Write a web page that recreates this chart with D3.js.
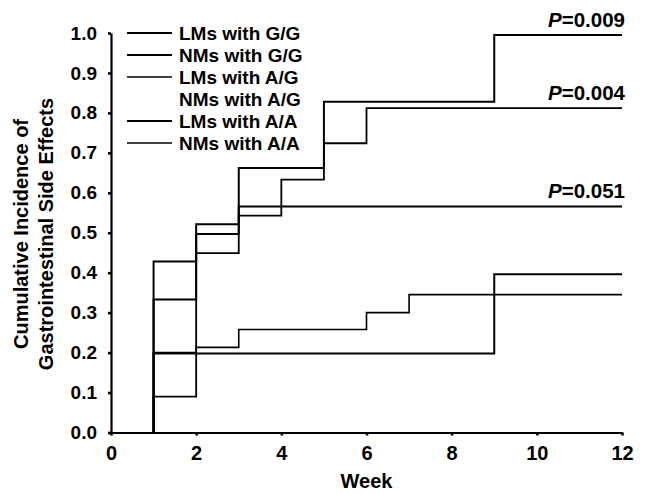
<!DOCTYPE html>
<html>
<head>
<meta charset="utf-8">
<script src="https://cdn.jsdelivr.net/npm/d3@7"></script>
<style>
  body { margin: 0; background: #fff; }
  svg { display: block; }
</style>
</head>
<body>
<svg id="chart" width="650" height="494"></svg>
<script>
// step curves: week of each event and cumulative incidence after it
var lmsGGWeeks = [1, 2, 3, 5, 9];
var lmsGGValues = [0.333, 0.497, 0.662, 0.828, 0.995];

var lmsAGWeeks = [1, 2, 3, 4, 5, 6];
var lmsAGValues = [0.09, 0.449, 0.543, 0.633, 0.724, 0.812];

var lmsAAWeeks = [1, 2, 3];
var lmsAAValues = [0.428, 0.521, 0.566];

var nmsAAWeeks = [1, 2, 3, 6, 7];
var nmsAAValues = [0.2, 0.213, 0.258, 0.300, 0.345];

var nmsGGWeeks = [1, 9];
var nmsGGValues = [0.198, 0.396];

var legendLabels = ["LMs with G/G", "NMs with G/G", "LMs with A/G",
                    "NMs with A/G", "LMs with A/A", "NMs with A/A"];
var pLabels = ["0.009", "0.004", "0.051"];

var xTicks = [0, 2, 4, 6, 8, 10, 12];
var yTicks = [0, 0.1, 0.2, 0.3, 0.4, 0.5, 0.6, 0.7, 0.8, 0.9, 1.0];
var lastWeek = 12;

var font = "'Liberation Sans', Arial, Helvetica, sans-serif";

var svg = d3.select("#chart");

var x = d3.scaleLinear().domain([0, 12]).range([111, 622]);
var y = d3.scaleLinear().domain([0, 1]).range([432.5, 33]);

// axes
var xAxis = svg.append("g")
  .attr("transform", "translate(0," + y(0) + ")")
  .call(d3.axisBottom(x).tickValues(xTicks).tickFormat(d3.format("d"))
    .tickSizeInner(3).tickSizeOuter(0).tickPadding(10));

var yAxis = svg.append("g")
  .attr("transform", "translate(" + x(0) + ",0)")
  .call(d3.axisLeft(y).tickValues(yTicks).tickFormat(d3.format(".1f"))
    .tickSizeInner(3).tickSizeOuter(0).tickPadding(11));

[xAxis, yAxis].forEach(function (a) {
  a.select(".domain").attr("stroke", "#000").attr("stroke-width", 2.2);
  a.selectAll(".tick line").attr("stroke", "#000").attr("stroke-width", 2.6);
  a.selectAll(".tick text")
    .attr("font-family", font).attr("font-size", 19)
    .attr("font-weight", "bold").attr("fill", "#000");
});
xAxis.selectAll(".tick text").attr("font-size", 20);

// axis titles
svg.append("text")
  .attr("x", (x(0) + x(12)) / 2).attr("y", 488)
  .attr("text-anchor", "middle")
  .attr("font-family", font).attr("font-size", 20).attr("font-weight", "bold")
  .text("Week");

var yTitle = svg.append("g")
  .attr("transform", "translate(0,234) rotate(-90)")
  .attr("font-family", font).attr("font-size", 20).attr("font-weight", "bold")
  .attr("text-anchor", "middle");
yTitle.append("text").attr("x", 0).attr("y", 28).text("Cumulative Incidence of");
yTitle.append("text").attr("x", 0).attr("y", 53).text("Gastrointestinal Side Effects");

// curves
var series = [
  { name: "LMs with G/G", weeks: lmsGGWeeks, values: lmsGGValues, width: 2 },
  { name: "NMs with G/G", weeks: nmsGGWeeks, values: nmsGGValues, width: 2 },
  { name: "LMs with A/G", weeks: lmsAGWeeks, values: lmsAGValues, width: 1.8 },
  { name: "LMs with A/A", weeks: lmsAAWeeks, values: lmsAAValues, width: 2 },
  { name: "NMs with A/A", weeks: nmsAAWeeks, values: nmsAAValues, width: 1.6 }
];

var line = d3.line()
  .x(function (d) { return x(d[0]); })
  .y(function (d) { return y(d[1]); })
  .curve(d3.curveStepAfter);

series.forEach(function (s) {
  var pts = [[s.weeks[0], 0]];
  for (var i = 0; i < s.weeks.length; i++) pts.push([s.weeks[i], s.values[i]]);
  pts.push([lastWeek, s.values[s.values.length - 1]]);
  svg.append("path")
    .attr("d", line(pts))
    .attr("fill", "none")
    .attr("stroke", "#000")
    .attr("stroke-width", s.width);
});

// P values at the end of the three upper curves
var pCurves = [lmsGGValues, lmsAGValues, lmsAAValues];
pCurves.forEach(function (vals, i) {
  var t = svg.append("text")
    .attr("x", x(lastWeek) + 3)
    .attr("y", y(vals[vals.length - 1]) - 8)
    .attr("text-anchor", "end")
    .attr("font-family", font).attr("font-size", 20.5).attr("font-weight", "bold");
  t.append("tspan").attr("font-style", "italic").text("P");
  t.append("tspan").text("=" + pLabels[i]);
});

// legend
var legend = svg.append("g").attr("transform", "translate(127,33)");
legendLabels.forEach(function (lab, i) {
  var g = legend.append("g").attr("transform", "translate(0," + (i * 22) + ")");
  if (lab !== "NMs with A/G") {
    g.append("line")
      .attr("x1", 0).attr("x2", 45).attr("y1", 0).attr("y2", 0)
      .attr("stroke", "#000")
      .attr("stroke-width", (i === 2 || i === 5) ? 1.3 : 1.8);
  }
  g.append("text")
    .attr("x", 52).attr("y", 0).attr("dy", "0.36em")
    .attr("font-family", font).attr("font-size", 19).attr("font-weight", "bold")
    .text(lab);
});
</script>
</body>
</html>
